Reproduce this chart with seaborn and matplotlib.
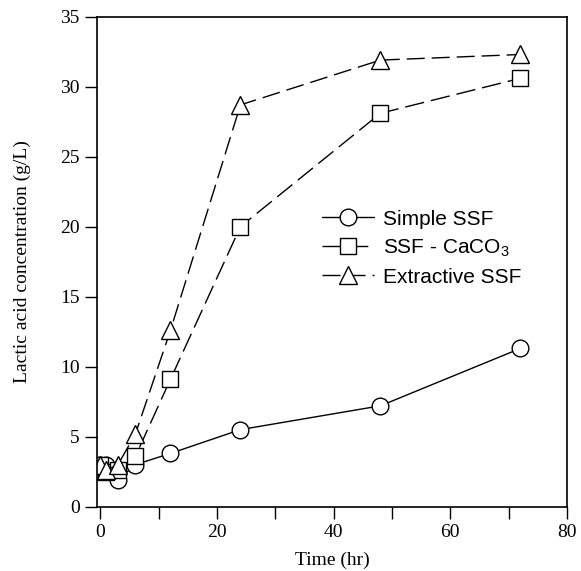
import matplotlib
matplotlib.use("Agg")
import matplotlib.pyplot as plt
import pandas as pd
import seaborn as sns
from matplotlib.ticker import MultipleLocator

# Data (time in hr, lactic acid in g/L)
time_hr = [0, 1, 3, 6, 12, 24, 48, 72]
simple_ssf = [3.0, 3.0, 1.9, 3.0, 3.8, 5.5, 7.2, 11.3]
ssf_caco3 = [3.0, 2.5, 2.6, 3.6, 9.1, 20.0, 28.1, 30.6]
extractive_ssf = [3.0, 2.6, 3.0, 5.2, 12.6, 28.7, 31.9, 32.3]

series_names = ["Simple SSF", "SSF - CaCO$_3$", "Extractive SSF"]
x_ticks = [0, 20, 40, 60, 80]
y_ticks = [0, 5, 10, 15, 20, 25, 30, 35]

sns.set_style("ticks")
plt.rcParams["font.family"] = ["Liberation Serif", "DejaVu Serif"]
plt.rcParams["mathtext.default"] = "regular"
for key in ["text.color", "axes.labelcolor", "xtick.color", "ytick.color"]:
    plt.rcParams[key] = "black"

fig = plt.figure(figsize=(5.81, 5.71), dpi=100)
ax = fig.add_axes([97 / 581, 1 - 506.6 / 571, 470 / 581, 489.9 / 571])

styles = {
    "Simple SSF": dict(marker="o", ms=12, linestyle="-"),
    "SSF - CaCO$_3$": dict(marker="s", ms=11, linestyle=(0, (14, 5))),
    "Extractive SSF": dict(marker="^", ms=13, linestyle=(0, (13, 5))),
}
values = dict(zip(series_names, [simple_ssf, ssf_caco3, extractive_ssf]))

for name in series_names:
    df = pd.DataFrame({"time": time_hr, "conc": values[name]})
    sns.lineplot(data=df, x="time", y="conc", ax=ax, color="black",
                 linewidth=1.0, markerfacecolor="white",
                 markeredgecolor="black", markeredgewidth=1.0,
                 label=name, **styles[name])

ax.set_xlim(-0.6, 80)
ax.set_ylim(0, 35)
ax.set_xticks(x_ticks)
ax.set_yticks(y_ticks)
ax.xaxis.set_minor_locator(MultipleLocator(10))
ax.tick_params(axis="both", which="both", direction="out", length=8.5,
               width=1.0, labelsize=14, pad=4, top=False, right=False,
               colors="black")
for sp in ax.spines.values():
    sp.set_visible(True)
    sp.set_linewidth(1.2)
    sp.set_color("black")

ax.set_xlabel("Time (hr)", fontsize=14, labelpad=8)
ax.set_ylabel("Lactic acid concentration (g/L)", fontsize=14, labelpad=21)

leg = ax.legend(loc="upper left", bbox_to_anchor=(0.443, 0.64), frameon=False,
                prop={"family": "Liberation Sans", "size": 15},
                handlelength=2.5, handletextpad=0.45, labelspacing=0.42,
                borderpad=0.3, labelcolor="black")

fig.savefig("out.png", dpi=100)
